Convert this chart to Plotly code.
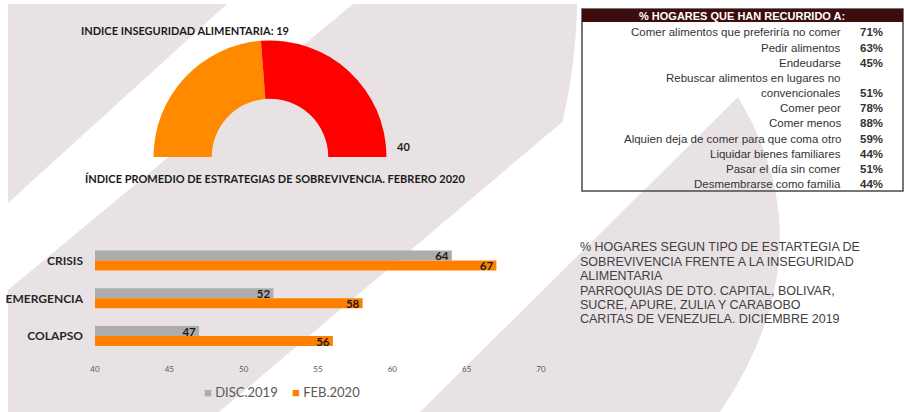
import numpy as np
import plotly.graph_objects as go

W, H = 904, 412

# ---------------- data ----------------
gauge_title = "INDICE INSEGURIDAD ALIMENTARIA: 19"
gauge_value = 19
gauge_max = 40
gauge_subtitle = "ÍNDICE PROMEDIO DE ESTRATEGIAS DE SOBREVIVENCIA. FEBRERO 2020"

categories = ["CRISIS", "EMERGENCIA", "COLAPSO"]
series_names = ["DISC.2019", "FEB.2020"]
disc2019 = [64, 52, 47]
feb2020 = [67, 58, 56]
x_ticks = [40, 45, 50, 55, 60, 65, 70]
grid_ticks = [45, 50, 55, 60, 65, 70]

table_title = "% HOGARES QUE HAN RECURRIDO A:"
strategies = [
    "Comer alimentos que preferiría no comer",
    "Pedir alimentos",
    "Endeudarse",
    "Rebuscar alimentos en lugares no<br>convencionales",
    "Comer peor",
    "Comer menos",
    "Alquien deja de comer para que coma otro",
    "Liquidar bienes familiares",
    "Pasar el día sin comer",
    "Desmembrarse como familia",
]
strategy_pct = [71, 63, 45, 51, 78, 88, 59, 44, 51, 44]

note_lines = [
    "% HOGARES SEGUN TIPO DE ESTARTEGIA DE",
    "SOBREVIVENCIA FRENTE A LA INSEGURIDAD",
    "ALIMENTARIA",
    "PARROQUIAS DE DTO. CAPITAL, BOLIVAR,",
    "SUCRE, APURE, ZULIA Y CARABOBO",
    "CARITAS DE VENEZUELA. DICIEMBRE 2019",
]

# ---------------- styles ----------------
PINK = "#e9e2e5"
ORANGE_G = "#ff8a00"
RED_G = "#ff0000"
GRAY_B = "#acacac"
ORANGE_B = "#ff8000"
series_colors = [GRAY_B, ORANGE_B]
CAL = "Lato, 'Open Sans', sans-serif"
ARIAL = "'Liberation Sans', Arial, sans-serif"


def px(x, y):
    return x / W, 1 - y / H


def path_from(pts):
    segs = []
    for i, (x, y) in enumerate(pts):
        X, Y = px(x, y)
        segs.append(("M " if i == 0 else "L ") + f"{X:.5f},{Y:.5f}")
    return " ".join(segs) + " Z"


shapes = []
# background decoration
shapes.append(dict(type="path", xref="paper", yref="paper", layer="below",
                   path=path_from([(8, 4), (227, 4), (8, 203)]),
                   fillcolor=PINK, line=dict(width=0)))
cx, cy, r = 41, -3, 536
arc_y = np.linspace(4, 122, 30)
arc_pts = [(cx + np.sqrt(r ** 2 - (yy - cy) ** 2), yy) for yy in arc_y]
shapes.append(dict(type="path", xref="paper", yref="paper", layer="below",
                   path=path_from([(353, 4)] + arc_pts + [(219, 412), (8, 412), (8, 290)]),
                   fillcolor=PINK, line=dict(width=0)))
a0 = px(738, 97); c0 = px(830, 250); e0 = px(720, 412); l0 = px(420, 412)
shapes.append(dict(type="path", xref="paper", yref="paper", layer="below",
                   path=f"M {a0[0]:.5f},{a0[1]:.5f} Q {c0[0]:.5f},{c0[1]:.5f} {e0[0]:.5f},{e0[1]:.5f} "
                        f"L {l0[0]:.5f},{l0[1]:.5f} Z",
                   fillcolor=PINK, line=dict(width=0)))
# table box
bx0, by0 = px(582, 9)
bx1, by1 = px(903, 191)
shapes.append(dict(type="rect", xref="paper", yref="paper", x0=bx0, y0=by0, x1=bx1, y1=by1,
                   line=dict(color="#4a4a4a", width=1.5), fillcolor="rgba(0,0,0,0)"))
hx0, hy0 = px(582, 9)
hx1, hy1 = px(903, 22)
shapes.append(dict(type="rect", xref="paper", yref="paper", x0=hx0, y0=hy0, x1=hx1, y1=hy1,
                   line=dict(width=0), fillcolor="#3d0c0c"))

fig = go.Figure()

# gauge (half doughnut)
gx0, gy1 = px(270 - 116.5, 157 - 116.5)
gx1, gy0 = px(270 + 116.5, 157 + 116.5)
fig.add_trace(go.Pie(
    values=[gauge_value, gauge_max - gauge_value, gauge_max],
    marker=dict(colors=[ORANGE_G, RED_G, "rgba(0,0,0,0)"], line=dict(width=0)),
    hole=0.5, rotation=270, direction="clockwise", sort=False,
    textinfo="none", hoverinfo="skip", showlegend=False,
    domain=dict(x=[gx0, gx1], y=[gy0, gy1]),
))

# bars
for name, vals, col in zip(series_names, [disc2019, feb2020], series_colors):
    fig.add_trace(go.Bar(
        y=categories, x=vals, name=name, orientation="h",
        marker=dict(color=col, line=dict(width=0)),
        text=vals, textposition="inside", insidetextanchor="end",
        textangle=0, constraintext="none",
        textfont=dict(family=CAL, size=11.5, color="#1a1a1a", weight="bold"),
        hoverinfo="skip", showlegend=False,
    ))

annotations = []
tx, ty = px(185, 31)
annotations.append(dict(x=tx, y=ty, xref="paper", yref="paper", text=gauge_title, showarrow=False,
                        font=dict(family=CAL, size=11, color="#1a1a1a", weight="bold"),
                        xanchor="center", yanchor="middle"))
tx, ty = px(275, 178)
annotations.append(dict(x=tx, y=ty, xref="paper", yref="paper", text=gauge_subtitle, showarrow=False,
                        font=dict(family=CAL, size=11, color="#1a1a1a", weight="bold"),
                        xanchor="center", yanchor="middle"))
tx, ty = px(395, 146)
annotations.append(dict(x=tx, y=ty, xref="paper", yref="paper", text=str(gauge_max), showarrow=False,
                        font=dict(family=CAL, size=11, color="#1a1a1a", weight="bold"),
                        xanchor="left", yanchor="middle"))

# table header
tx, ty = px(742, 16)
annotations.append(dict(x=tx, y=ty, xref="paper", yref="paper", text=table_title, showarrow=False,
                        font=dict(family=ARIAL, size=11, color="#ffffff", weight="bold"),
                        xanchor="center", yanchor="middle"))
line_i = 0
for lab, pct in zip(strategies, strategy_pct):
    parts = lab.split("<br>")
    for j, part in enumerate(parts):
        tx, ty = px(843, 32.3 + 15.2 * line_i)
        annotations.append(dict(x=tx, y=ty, xref="paper", yref="paper", text=part, showarrow=False,
                                font=dict(family=ARIAL, size=11.5, color="#333333"),
                                xanchor="right", yanchor="middle"))
        if j == len(parts) - 1:
            tx2, _ = px(858, 0)
            annotations.append(dict(x=tx2, y=ty, xref="paper", yref="paper", text=f"{pct}%",
                                    showarrow=False,
                                    font=dict(family=ARIAL, size=11.5, color="#333333", weight="bold"),
                                    xanchor="left", yanchor="middle"))
        line_i += 1

for k, ln in enumerate(note_lines):
    tx, ty = px(578, 247.3 + 14.4 * k)
    annotations.append(dict(x=tx, y=ty, xref="paper", yref="paper", text=ln, showarrow=False,
                            font=dict(family=ARIAL, size=12.5, color="#404040"),
                            xanchor="left", yanchor="middle"))

# legend (built from series names and colours)
leg_x = [202, 290]
for name, col, lx in zip(series_names, series_colors, leg_x):
    tx, ty = px(lx, 392)
    annotations.append(dict(x=tx, y=ty, xref="paper", yref="paper",
                            text=f"<span style='color:{col}'>■</span> {name}", showarrow=False,
                            font=dict(family=CAL, size=13, color="#595959"),
                            xanchor="left", yanchor="middle"))

xd = [95 / W, 541 / W]
yd = [1 - 355 / H, 1 - 241.7 / H]

fig.update_layout(
    width=W, height=H,
    margin=dict(l=0, r=0, t=0, b=0),
    paper_bgcolor="#ffffff", plot_bgcolor="rgba(0,0,0,0)",
    barmode="group", bargap=0.47, bargroupgap=0,
    shapes=shapes, annotations=annotations,
    xaxis=dict(domain=xd, range=[40, 70], tickvals=x_ticks, showgrid=False, zeroline=False,
               showline=False, ticks="", automargin=False, ticklabelstandoff=8,
               tickfont=dict(family=CAL, size=8, color="#595959")),
    xaxis2=dict(overlaying="x", anchor="y", range=[40, 70], tickvals=grid_ticks, showgrid=True,
                gridcolor="#666666", gridwidth=2, showticklabels=False, zeroline=False,
                showline=False, ticks="", automargin=False),
    yaxis=dict(domain=yd, autorange="reversed", showgrid=False, zeroline=False, showline=False,
               ticks="", automargin=False, ticklabelstandoff=11,
               tickfont=dict(family=CAL, size=12, color="#262626", weight="bold")),
    showlegend=False,
)

fig.write_html("out.html", config={"displayModeBar": False},
               post_script="document.body.style.margin='0px';document.body.style.overflow='hidden';")
